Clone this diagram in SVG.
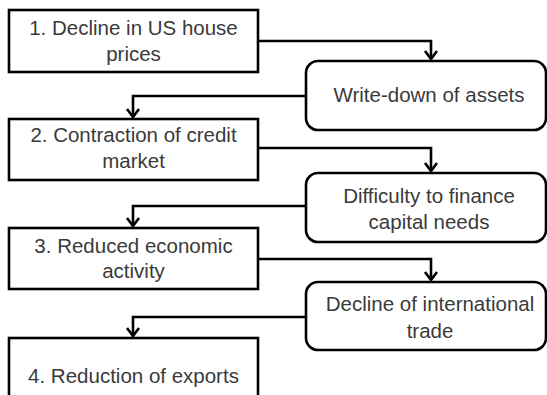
<svg xmlns="http://www.w3.org/2000/svg" width="547" height="395" viewBox="0 0 547 395">
<style>
.box{fill:#fff;stroke:#000;stroke-width:2.6}
.t{font-family:"Liberation Sans",Arial,sans-serif;font-size:20.5px;fill:#3a3a3a;text-anchor:middle}
.c{fill:none;stroke:#000;stroke-width:2.6}
</style>
<defs>
<marker id="chev" viewBox="-2 -8 12 16" markerWidth="12" markerHeight="16" markerUnits="userSpaceOnUse" refX="8" refY="0" orient="auto">
<path d="M0,-6 L8,0 L0,6" fill="none" stroke="#000" stroke-width="2.6"/>
</marker>
</defs>
<rect width="547" height="395" fill="#fff"/>
<g id="connectors">
<path class="c" d="M258,41 H431 V59" marker-end="url(#chev)"/>
<path class="c" d="M306,96 H133 V117" marker-end="url(#chev)"/>
<path class="c" d="M258,148 H431 V171" marker-end="url(#chev)"/>
<path class="c" d="M306,206 H133 V226" marker-end="url(#chev)"/>
<path class="c" d="M258,259 H431 V280" marker-end="url(#chev)"/>
<path class="c" d="M306,317 H133 V336" marker-end="url(#chev)"/>
</g>
<g id="n1">
<rect class="box" x="9" y="10" width="249" height="62"/>
<text class="t" x="133.5" y="35">1. Decline in US house</text>
<text class="t" x="133.5" y="61">prices</text>
</g>
<g id="n2">
<rect class="box" x="306" y="61" width="240" height="69" rx="12"/>
<text class="t" x="429" y="102">Write-down of assets</text>
</g>
<g id="n3">
<rect class="box" x="9" y="119" width="249" height="61"/>
<text class="t" x="133.5" y="142">2. Contraction of credit</text>
<text class="t" x="133.5" y="168">market</text>
</g>
<g id="n4">
<rect class="box" x="306" y="173" width="240" height="69" rx="12"/>
<text class="t" x="429" y="203">Difficulty to finance</text>
<text class="t" x="429" y="229">capital needs</text>
</g>
<g id="n5">
<rect class="box" x="9" y="228" width="249" height="61"/>
<text class="t" x="133.5" y="253">3. Reduced economic</text>
<text class="t" x="133.5" y="278">activity</text>
</g>
<g id="n6">
<rect class="box" x="306" y="282" width="240" height="68" rx="12"/>
<text class="t" x="430" y="311">Decline of international</text>
<text class="t" x="430" y="338">trade</text>
</g>
<g id="n7">
<rect class="box" x="9" y="338" width="249" height="80"/>
<text class="t" x="133.5" y="383">4. Reduction of exports</text>
</g>
</svg>
